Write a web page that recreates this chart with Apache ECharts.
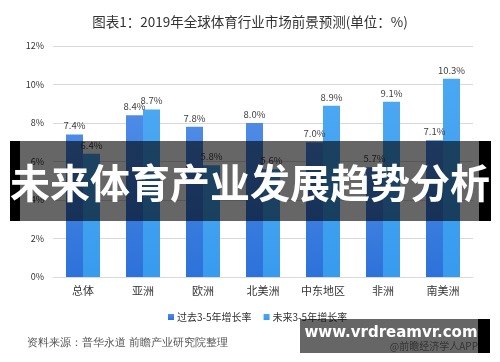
<!DOCTYPE html>
<html>
<head>
<meta charset="utf-8">
<script src="https://cdn.jsdelivr.net/npm/echarts@6/dist/echarts.min.js"></script>
<style>
html,body{margin:0;padding:0;background:#fff;}
#chart{width:500px;height:362px;}
</style>
</head>
<body>
<div id="chart"></div>
<script>
var categories = ['总体', '亚洲', '欧洲', '北美洲', '中东地区', '非洲', '南美洲'];
var pastGrowth = [7.4, 8.4, 7.8, 8.0, 7.0, 5.7, 7.1];
var futureGrowth = [6.4, 8.7, 5.8, 5.6, 8.9, 9.1, 10.3];
var seriesNames = ['过去3-5年增长率', '未来3-5年增长率'];
var titleText = '图表1：2019年全球体育行业市场前景预测(单位：%)';
var sourceText = '资料来源：普华永道 前瞻产业研究院整理';
var bannerText = '未来体育产业发展趋势分析';
var siteText = 'www.vrdreamvr.com';
var appText = '@前瞻经济学人APP';

var font = '"Noto Sans CJK SC", "Noto Sans", sans-serif';
var chart = echarts.init(document.getElementById('chart'), null, {renderer: 'canvas'});

function grad(top, bottom) {
  return new echarts.graphic.LinearGradient(0, 0, 0, 1, [
    {offset: 0, color: top}, {offset: 1, color: bottom}
  ]);
}
var labelCfg = {
  show: true, position: 'top', distance: 4,
  fontSize: 9.5, color: '#404040', fontFamily: font,
  formatter: function (p) { return p.value.toFixed(1) + '%'; }
};

chart.setOption({
  animation: false,
  textStyle: {fontFamily: font},
  title: {
    text: titleText, left: 'center', top: 10,
    textStyle: {fontSize: 13.5, fontWeight: 'normal', color: '#333', fontFamily: font}
  },
  legend: {
    data: seriesNames, left: 163, top: 307,
    icon: 'rect', itemWidth: 6, itemHeight: 6, itemGap: 12,
    textStyle: {fontSize: 10, color: '#333', fontFamily: font, padding: [0, 0, 0, -2]}
  },
  grid: {left: 53, right: 27, top: 46, bottom: 85},
  xAxis: {
    type: 'category', data: categories,
    axisLine: {lineStyle: {color: '#d9d9d9'}},
    axisTick: {show: false},
    axisLabel: {fontSize: 11, color: '#333', margin: 8, fontFamily: font}
  },
  yAxis: {
    type: 'value', min: 0, max: 12, interval: 2,
    axisLine: {show: false}, axisTick: {show: false},
    axisLabel: {formatter: '{value}%', fontSize: 9, color: '#333', margin: 9, fontFamily: font},
    splitLine: {lineStyle: {color: '#d9d9d9'}}
  },
  series: [
    {
      name: seriesNames[0], type: 'bar', data: pastGrowth,
      barWidth: 17, barGap: '0%',
      itemStyle: {color: grad('#4d8be6', '#2d72da')},
      label: labelCfg
    },
    {
      name: seriesNames[1], type: 'bar', data: futureGrowth,
      barWidth: 17,
      itemStyle: {color: grad('#4ba7f2', '#379bee')},
      label: labelCfg
    }
  ],
  graphic: [
    {type: 'text', left: 27, top: 337, z: 50,
     style: {text: sourceText, fontSize: 11, fill: '#555', font: '11px ' + font}},
    // banner
    {type: 'rect', shape: {x: 10, y: 141, width: 10, height: 80}, style: {fill: '#000'}, z: 100},
    {type: 'rect', shape: {x: 479, y: 141, width: 12, height: 80}, style: {fill: '#000'}, z: 100},
    {type: 'rect', shape: {x: 20, y: 141, width: 459, height: 80}, style: {fill: 'rgba(0,0,0,0.6)'}, z: 100},
    {type: 'text', x: 250, y: 183, z: 101,
     style: {text: bannerText, fill: '#fff', align: 'center', verticalAlign: 'middle',
             font: 'bold 40px ' + font}},
    // watermark
    {type: 'rect', shape: {x: 478, y: 319, width: 12, height: 34}, style: {fill: '#000'}, z: 100},
    {type: 'rect', shape: {x: 300, y: 319, width: 178, height: 34}, style: {fill: 'rgba(0,0,0,0.6)'}, z: 100},
    {type: 'text', x: 478, y: 346, z: 101,
     style: {text: appText, fill: '#333', align: 'right', verticalAlign: 'middle',
             font: '10px ' + font}},
    {type: 'text', x: 391, y: 333, z: 102,
     style: {text: siteText, fill: '#fff', align: 'center', verticalAlign: 'middle',
             font: 'bold 15px "DejaVu Sans", sans-serif'}}
  ]
});
</script>
</body>
</html>
